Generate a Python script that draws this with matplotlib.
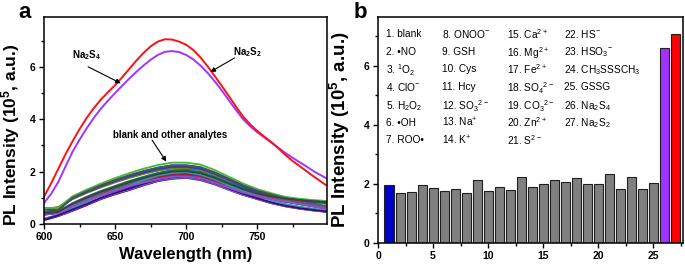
import matplotlib
matplotlib.use('Agg')
import matplotlib.pyplot as plt
import numpy as np
from matplotlib.ticker import MultipleLocator

plt.rcParams['font.family'] = ['Liberation Sans', 'DejaVu Sans']
plt.rcParams['mathtext.default'] = 'regular'

# ---- panel a data: emission spectra (x 10^5 a.u.) ----
wl_fine = [600, 605, 610, 615, 620, 625, 630, 635, 640, 645, 650, 655, 660, 665, 670, 675, 680,
           685, 690, 695, 700, 705, 710, 715, 720, 725, 730, 735, 740, 745, 750, 755, 760, 765,
           770, 775, 780, 785, 790, 795, 800]
na2s2 = [1.04, 1.55, 2.10, 2.65, 3.15, 3.62, 4.05, 4.42, 4.75, 5.03, 5.30, 5.60, 5.92, 6.24, 6.53,
         6.78, 6.96, 7.05, 7.04, 6.96, 6.84, 6.64, 6.36, 6.02, 5.65, 5.27, 4.88, 4.48, 4.10, 3.80,
         3.55, 3.33, 3.12, 2.88, 2.62, 2.40, 2.20, 2.00, 1.80, 1.61, 1.42]
na2s4 = [0.80, 1.15, 1.60, 2.18, 2.75, 3.22, 3.65, 4.05, 4.40, 4.71, 5.00, 5.28, 5.55, 5.81, 6.05,
         6.27, 6.45, 6.57, 6.60, 6.56, 6.45, 6.28, 6.05, 5.77, 5.45, 5.10, 4.72, 4.35, 4.00, 3.73,
         3.50, 3.30, 3.10, 2.90, 2.70, 2.52, 2.35, 2.18, 2.00, 1.85, 1.70]

# blank + other analytes (25 traces, 10 nm steps)
wavelength = [600, 610, 620, 630, 640, 650, 660, 670, 680, 690, 700,
              710, 720, 730, 740, 750, 760, 770, 780, 790, 800]
others = [
    [0.39, 0.45, 0.74, 0.97, 1.18, 1.36, 1.53, 1.69, 1.82, 1.92, 1.94, 1.86, 1.69, 1.47, 1.28, 1.13, 1.01, 0.91, 0.81, 0.72, 0.62],
    [0.18, 0.32, 0.53, 0.74, 0.97, 1.14, 1.30, 1.48, 1.64, 1.72, 1.76, 1.67, 1.51, 1.30, 1.11, 0.95, 0.79, 0.67, 0.58, 0.51, 0.46],
    [0.18, 0.32, 0.53, 0.75, 0.98, 1.16, 1.32, 1.50, 1.66, 1.74, 1.78, 1.69, 1.53, 1.32, 1.12, 0.96, 0.80, 0.68, 0.59, 0.52, 0.46],
    [0.55, 0.49, 0.74, 0.97, 1.18, 1.36, 1.53, 1.69, 1.82, 1.92, 1.94, 1.86, 1.69, 1.47, 1.28, 1.13, 1.01, 0.91, 0.81, 0.72, 0.62],
    [0.37, 0.43, 0.70, 0.93, 1.13, 1.30, 1.46, 1.61, 1.74, 1.83, 1.85, 1.78, 1.61, 1.41, 1.22, 1.07, 0.96, 0.87, 0.78, 0.68, 0.59],
    [0.18, 0.32, 0.54, 0.76, 0.99, 1.17, 1.33, 1.51, 1.67, 1.76, 1.80, 1.71, 1.55, 1.33, 1.13, 0.97, 0.81, 0.68, 0.59, 0.52, 0.47],
    [0.36, 0.42, 0.69, 0.91, 1.11, 1.27, 1.44, 1.58, 1.71, 1.80, 1.82, 1.75, 1.58, 1.38, 1.20, 1.06, 0.95, 0.86, 0.76, 0.67, 0.58],
    [0.15, 0.30, 0.50, 0.72, 0.95, 1.14, 1.30, 1.48, 1.64, 1.74, 1.78, 1.69, 1.53, 1.32, 1.12, 0.96, 0.80, 0.68, 0.59, 0.52, 0.46],
    [0.55, 0.64, 0.95, 1.19, 1.40, 1.59, 1.76, 1.91, 2.04, 2.12, 2.12, 2.06, 1.87, 1.63, 1.40, 1.21, 1.06, 0.93, 0.87, 0.83, 0.78],
    [0.36, 0.42, 0.68, 0.90, 1.10, 1.26, 1.42, 1.57, 1.69, 1.78, 1.80, 1.73, 1.57, 1.37, 1.19, 1.04, 0.94, 0.85, 0.76, 0.67, 0.58],
    [0.38, 0.43, 0.71, 0.94, 1.15, 1.32, 1.49, 1.64, 1.77, 1.86, 1.88, 1.80, 1.64, 1.43, 1.24, 1.09, 0.98, 0.88, 0.79, 0.70, 0.60],
    [0.20, 0.32, 0.54, 0.76, 0.99, 1.17, 1.33, 1.51, 1.67, 1.76, 1.80, 1.71, 1.55, 1.33, 1.13, 0.97, 0.81, 0.68, 0.59, 0.52, 0.47],
    [0.58, 0.55, 1.01, 1.25, 1.48, 1.68, 1.86, 2.02, 2.15, 2.24, 2.24, 2.17, 1.97, 1.72, 1.48, 1.28, 1.12, 0.99, 0.92, 0.87, 0.83],
    [0.38, 0.44, 0.72, 0.95, 1.15, 1.32, 1.49, 1.64, 1.78, 1.87, 1.89, 1.81, 1.64, 1.44, 1.25, 1.10, 0.98, 0.89, 0.79, 0.70, 0.60],
    [0.40, 0.46, 0.76, 1.00, 1.21, 1.39, 1.57, 1.73, 1.87, 1.97, 1.99, 1.91, 1.73, 1.51, 1.31, 1.15, 1.03, 0.94, 0.86, 0.80, 0.76],
    [0.56, 0.64, 0.96, 1.20, 1.41, 1.61, 1.78, 1.93, 2.05, 2.14, 2.14, 2.08, 1.88, 1.65, 1.41, 1.22, 1.07, 0.94, 0.88, 0.83, 0.79],
    [0.41, 0.48, 0.79, 1.04, 1.26, 1.45, 1.64, 1.80, 1.95, 2.05, 2.07, 1.99, 1.80, 1.57, 1.37, 1.20, 1.08, 0.97, 0.87, 0.77, 0.66],
    [0.60, 0.53, 0.98, 1.22, 1.44, 1.64, 1.81, 1.96, 2.09, 2.18, 2.18, 2.11, 1.92, 1.68, 1.44, 1.24, 1.09, 0.96, 0.89, 0.85, 0.81],
    [0.40, 0.46, 0.76, 1.00, 1.21, 1.39, 1.57, 1.73, 1.87, 1.97, 1.99, 1.91, 1.73, 1.51, 1.31, 1.15, 1.03, 0.94, 0.84, 0.74, 0.64],
    [0.20, 0.36, 0.60, 0.84, 1.09, 1.29, 1.47, 1.67, 1.85, 1.95, 1.99, 1.89, 1.71, 1.47, 1.25, 1.07, 0.90, 0.76, 0.66, 0.58, 0.52],
    [0.61, 0.62, 1.05, 1.31, 1.54, 1.75, 1.94, 2.11, 2.25, 2.34, 2.34, 2.27, 2.06, 1.80, 1.54, 1.33, 1.17, 1.03, 0.96, 0.91, 0.87],
    [0.16, 0.33, 0.55, 0.76, 1.00, 1.18, 1.35, 1.53, 1.69, 1.78, 1.82, 1.73, 1.57, 1.35, 1.15, 0.98, 0.82, 0.69, 0.60, 0.53, 0.47],
    [0.45, 0.54, 1.00, 1.25, 1.47, 1.67, 1.85, 2.01, 2.14, 2.23, 2.23, 2.16, 1.96, 1.72, 1.47, 1.27, 1.12, 0.98, 0.91, 0.87, 0.83],
    [0.36, 0.42, 0.69, 0.91, 1.11, 1.27, 1.44, 1.58, 1.71, 1.80, 1.82, 1.75, 1.58, 1.38, 1.20, 1.06, 0.95, 0.86, 0.76, 0.67, 0.58],
    [0.40, 0.46, 0.77, 1.01, 1.23, 1.41, 1.60, 1.76, 1.90, 2.00, 2.02, 1.94, 1.76, 1.54, 1.33, 1.17, 1.05, 0.97, 0.91, 0.86, 0.82],
]
other_colors = ['#1f1fcc', '#e0306f', '#55b04a', '#1560e0', '#30c0c0', '#3fd0d0', '#b03fb0',
                '#7000c0', '#8c8c00', '#202080', '#8030a0', '#40c8c8', '#2050e0', '#a02040',
                '#808080', '#808000', '#008080', '#1a3fe0', '#606060', '#2aa0a0', '#4cb83c',
                '#4b0082', '#505050', '#9050d0', '#404040']

# ---- panel b data: intensity per analyte ----
analyte_idx = list(range(1, 28))
intensity = [1.94, 1.68, 1.72, 1.94, 1.85, 1.76, 1.82, 1.70, 2.12, 1.76, 1.88, 1.80, 2.24, 1.89,
             1.99, 2.14, 2.07, 2.18, 1.99, 1.99, 2.34, 1.82, 2.23, 1.82, 2.02, 6.59, 7.08]
analyte_names = ['1. blank', '2. \u2022NO', '3. $^{1}$O$_{2}$', '4. ClO$^{-}$', '5. H$_{2}$O$_{2}$',
                 '6. \u2022OH', '7. ROO\u2022',
                 '8. ONOO$^{-}$', '9. GSH', '10. Cys', '11. Hcy', '12. SO$_{3}$$^{2-}$', '13. Na$^{+}$',
                 '14. K$^{+}$',
                 '15. Ca$^{2+}$', '16. Mg$^{2+}$', '17. Fe$^{2+}$', '18. SO$_{4}$$^{2-}$', '19. CO$_{3}$$^{2-}$',
                 '20. Zn$^{2+}$', '21. S$^{2-}$',
                 '22. HS$^{-}$', '23. HSO$_{3}$$^{-}$', '24. CH$_{3}$SSSCH$_{3}$', '25. GSSG',
                 '26. Na$_{2}$S$_{4}$', '27. Na$_{2}$S$_{2}$']

fig = plt.figure(figsize=(6.85, 2.68), dpi=100)

def style_axes(ax):
    for s in ax.spines.values():
        s.set_linewidth(1.1)
    ax.tick_params(which='both', direction='out', top=False, right=False, width=1.0)
    ax.tick_params(which='major', length=3.5, labelsize=7.5, pad=2.5)
    ax.tick_params(which='minor', length=2)
    for lab in ax.get_xticklabels() + ax.get_yticklabels():
        lab.set_fontweight('bold')

# ---------- panel a ----------
ax1 = fig.add_axes([44/685, 1-224/268, (327-44)/685, (224-17)/268])
for ys, c in zip(others, other_colors):
    ax1.plot(wavelength, ys, color=c, lw=1.4, solid_joinstyle='round')
ax1.plot(wl_fine, na2s4, color='#a033ff', lw=1.4)
ax1.plot(wl_fine, na2s2, color='#ff1010', lw=1.4)
ax1.set_xlim(600, 799)
ax1.set_ylim(0, 7.9)
ax1.set_xticks([600, 650, 700, 750])
ax1.xaxis.set_minor_locator(MultipleLocator(25))
ax1.set_yticks([0, 2, 4, 6])
ax1.yaxis.set_minor_locator(MultipleLocator(1))
style_axes(ax1)
ax1.set_xlabel('Wavelength (nm)', fontsize=12, fontweight='bold', labelpad=3)
ax1.set_ylabel('PL Intensity (10$^{5}$, a.u.)', fontsize=12.5, fontweight='bold')
ax1.yaxis.set_label_coords(-0.078, 0.43)

arrow = dict(arrowstyle='-|>', color='k', lw=0.8, mutation_scale=7, shrinkA=0, shrinkB=0)
ax1.text(630, 6.45, 'Na$_{2}$S$_{4}$', fontsize=7, fontweight='bold', ha='center', va='center')
ax1.annotate('', xy=(654, 5.37), xytext=(631, 6.0), arrowprops=arrow)
ax1.text(743, 6.56, 'Na$_{2}$S$_{2}$', fontsize=7, fontweight='bold', ha='center', va='center')
ax1.annotate('', xy=(717, 5.8), xytext=(734, 6.34), arrowprops=arrow)
ax1.text(689, 3.4, 'blank and other analytes', fontsize=7, fontweight='bold', ha='center', va='center')
ax1.annotate('', xy=(686, 2.38), xytext=(676, 3.2), arrowprops=arrow)

# ---------- panel b ----------
ax2 = fig.add_axes([378/685, 1-242.7/268, (683-378)/685, (242.7-16.7)/268])
bar_colors = ['#0000cc'] + ['#808080'] * 24 + ['#a033ff', '#ff0000']
ax2.bar(analyte_idx, intensity, width=0.82, color=bar_colors, edgecolor='#202020', linewidth=0.8)
ax2.set_xlim(0, 27.7)
ax2.set_ylim(0, 7.66)
ax2.set_xticks([0, 5, 10, 15, 20, 25])
ax2.xaxis.set_minor_locator(MultipleLocator(2.5))
ax2.set_yticks([0, 2, 4, 6])
ax2.yaxis.set_minor_locator(MultipleLocator(1))
style_axes(ax2)
ax2.set_ylabel('PL Intensity (10$^{5}$, a.u.)', fontsize=13.5, fontweight='bold')
ax2.yaxis.set_label_coords(-0.085, 0.5)

col_x = [0.025, 0.21, 0.423, 0.61]
row_y = [0.929, 0.850, 0.772, 0.694, 0.614, 0.536, 0.458]
for i, name in enumerate(analyte_names):
    col, row = divmod(i, 7)
    ax2.text(col_x[col], row_y[row], name, transform=ax2.transAxes, fontsize=7.3,
             ha='left', va='center_baseline')

fig.text(25/685, 1-13/268, 'a', fontsize=16, fontweight='bold', ha='center', va='center')
fig.text(360/685, 1-13/268, 'b', fontsize=16, fontweight='bold', ha='center', va='center')

fig.savefig('out.png', dpi=100)
